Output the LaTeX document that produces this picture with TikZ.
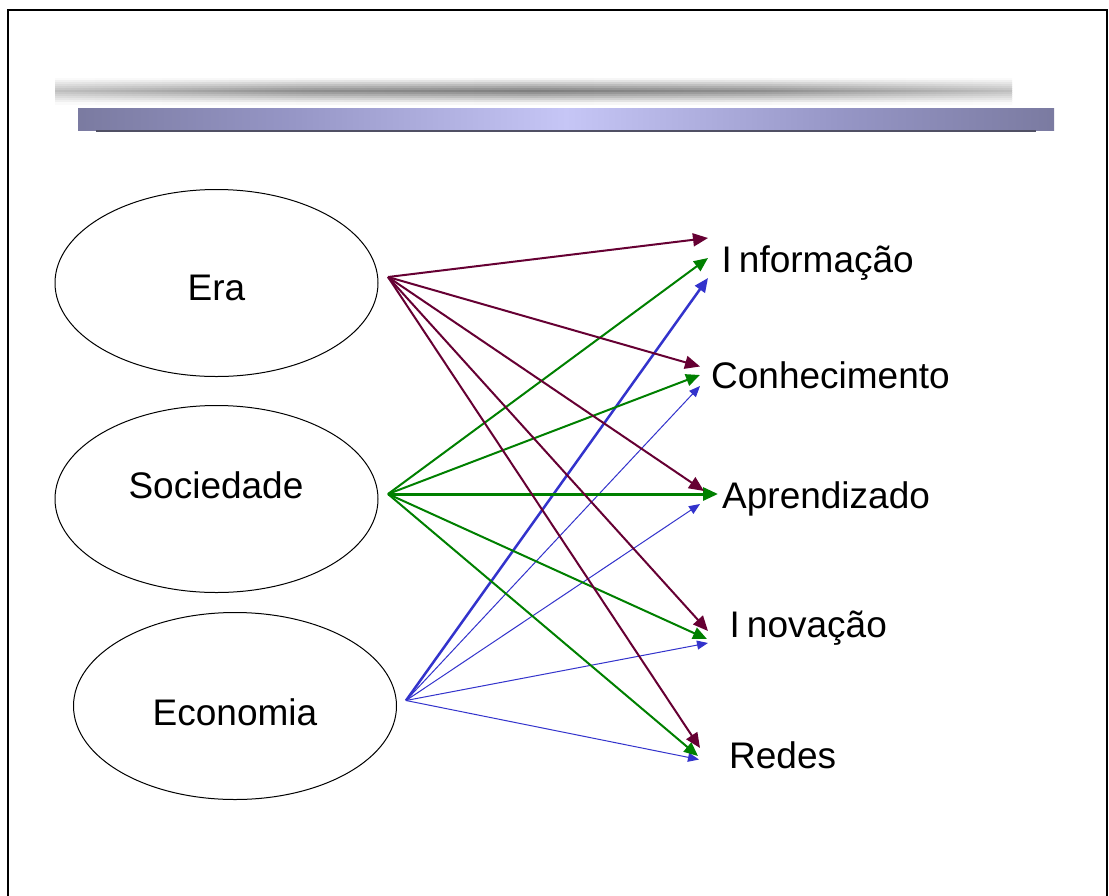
\documentclass[tikz,border=0pt]{standalone}
\usepackage{fontspec}
\setmainfont{Liberation Sans}
\usetikzlibrary{arrows.meta,shapes.geometric}
\definecolor{maroon}{RGB}{102,0,51}
\definecolor{dgreen}{RGB}{0,128,0}
\definecolor{eblue}{RGB}{51,51,204}
\definecolor{bbA}{RGB}{88,88,110}
\definecolor{bbB}{RGB}{100,100,130}
\definecolor{bbC}{RGB}{150,150,198}
\definecolor{bbD}{RGB}{198,198,246}
\definecolor{bbLine}{RGB}{80,80,100}
\pgfdeclarehorizontalshading{bluebar}{100bp}{color(0bp)=(bbA); color(6bp)=(bbA); color(16bp)=(bbB); color(36bp)=(bbC); color(50bp)=(bbD); color(64bp)=(bbC); color(84bp)=(bbB); color(94bp)=(bbA); color(100bp)=(bbA)}
\begin{document}
\begin{tikzpicture}[x=1pt,y=-1pt,
  oval/.style={draw=black, line width=1pt, ellipse, minimum width=323pt, minimum height=187pt, inner sep=0pt},
  lbl/.style={font=\fontsize{37}{40}\selectfont, inner sep=0pt, anchor=base},
  tlbl/.style={lbl, anchor=base west},
  arE/.style={draw=maroon, line width=2pt, -{Triangle[length=15pt,width=13pt]}},
  arS/.style={draw=dgreen, line width=2pt, -{Triangle[length=14pt,width=12pt]}},
  arSt/.style={draw=dgreen, line width=3pt, -{Triangle[length=15pt,width=13pt]}},
  arB/.style={draw=eblue, line width=1pt, -{Triangle[length=11pt,width=9pt]}},
  arBt/.style={draw=eblue, line width=2.5pt, -{Triangle[length=14pt,width=12pt]}},
]
\useasboundingbox (0,0) rectangle (1109,895);
\fill[white] (0,0) rectangle (1109,895);
% frame
\draw[line width=2pt] (8,900) -- (8,10) -- (1107,10) -- (1107,900);
% header gray bar
\foreach \i in {0,...,12}{
  \pgfmathsetmacro{\f}{1-abs(\i-6)/6.5}
  \pgfmathsetmacro{\da}{8*\f}
  \pgfmathsetmacro{\db}{25*\f}
  \pgfmathsetmacro{\dc}{44*\f}
  \pgfmathsetmacro{\dd}{50*\f}
  \colorlet{gA}{black!\da}
  \colorlet{gB}{black!\db}
  \colorlet{gC}{black!\dc}
  \colorlet{gD}{black!\dd}
  \pgfdeclarehorizontalshading[gA,gB,gC,gD]{graybar}{100bp}{color(0bp)=(white); color(8bp)=(gA); color(25bp)=(gB); color(38bp)=(gC); color(50bp)=(gD); color(62bp)=(gC); color(75bp)=(gB); color(92bp)=(gA); color(100bp)=(white)}
  \shade[shading=graybar] (55,{78+2*\i}) rectangle (1012,{80.3+2*\i});
}
% header blue bar
\shade[shading=bluebar] (78,108) rectangle (1054,130);
\draw[line width=1.5pt, bbLine] (96,131) -- (1036,131);
% ellipses
\node[oval] (eraE) at (216.5,283) {};
\node[oval] (socE) at (216.5,499) {};
\node[oval] (ecoE) at (235,706) {};
\node[lbl] (era) at (216.5,300) {Era};
\node[lbl] (soc) at (216,498) {Sociedade};
\node[lbl] (eco) at (235,725) {Economia};
% right labels
\node[tlbl] (inf) at (721.5,272) {I\kern7pt nformação};
\node[tlbl] (con) at (711,388) {Conhecimento};
\node[tlbl] (apr) at (722,508) {Aprendizado};
\node[tlbl] (ino) at (729.5,637) {I\kern7pt novação};
\node[tlbl] (red) at (729,768) {Redes};
% connector ends
\coordinate (eraOut) at (388,277);
\coordinate (socOut) at (388,494);
\coordinate (ecoOut) at (406,700.5);
\coordinate (e1) at (708,238);
\coordinate (e2) at (700,366.5);
\coordinate (e3) at (704,491);
\coordinate (e4) at (708,631);
\coordinate (e5) at (700,748);
\coordinate (s1) at (708,258);
\coordinate (s2) at (700,375);
\coordinate (s3) at (718,494);
\coordinate (s4) at (707,639);
\coordinate (s5) at (698,756);
\coordinate (b1) at (708,278);
\coordinate (b2) at (700,386);
\coordinate (b3) at (700,504);
\coordinate (b4) at (708,643);
\coordinate (b5) at (699,759.5);
% Economia arrows
\draw[arBt] (ecoOut) -- (b1);
\draw[arB] (ecoOut) -- (b2);
\draw[arB] (ecoOut) -- (b3);
\draw[arB] (ecoOut) -- (b4);
\draw[arB] (ecoOut) -- (b5);
% Sociedade arrows
\draw[arS] (socOut) -- (s1);
\draw[arS] (socOut) -- (s2);
\draw[arSt] (socOut) -- (s3);
\draw[arS] (socOut) -- (s4);
\draw[arS] (socOut) -- (s5);
% Era arrows
\draw[arE] (eraOut) -- (e1);
\draw[arE] (eraOut) -- (e2);
\draw[arE] (eraOut) -- (e3);
\draw[arE] (eraOut) -- (e4);
\draw[arE] (eraOut) -- (e5);
\end{tikzpicture}
\end{document}
